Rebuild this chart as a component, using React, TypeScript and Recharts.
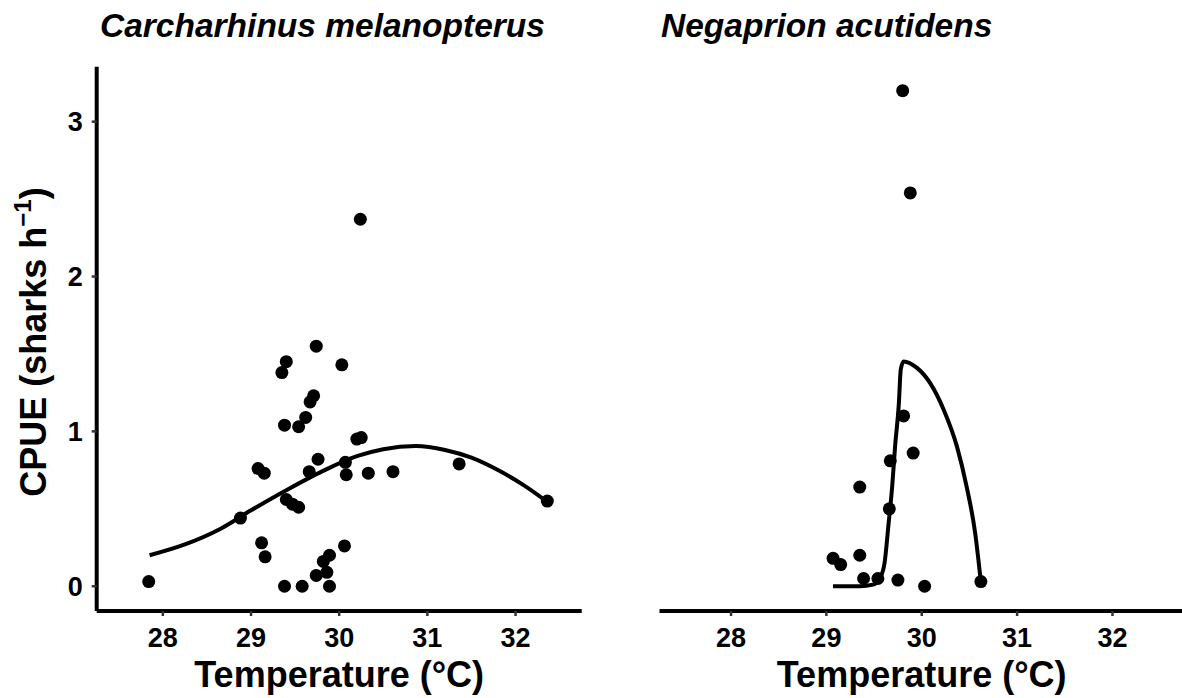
import React from "react";
import { ComposedChart, Scatter, Line, XAxis, YAxis } from "recharts";

// C. melanopterus observations (temperature °C, CPUE sharks/h)
const melTemp = [
  27.84, 28.88, 29.08, 29.15, 29.12, 29.16, 29.35, 29.4, 29.38, 29.4, 29.47, 29.54,
  29.38, 29.58, 29.54, 29.62, 29.67, 29.71, 29.74, 29.66, 29.76, 29.74, 29.82, 29.89,
  29.86, 29.89, 30.03, 30.07, 30.08, 30.06, 30.2, 30.25, 30.24, 30.33, 30.61, 31.36, 32.36,
];
const melCpue = [
  0.03, 0.44, 0.76, 0.73, 0.28, 0.19, 1.38, 1.45, 1.04, 0.56, 0.53, 0.51,
  0.0, 0.0, 1.03, 1.09, 1.19, 1.23, 1.55, 0.74, 0.82, 0.07, 0.16, 0.2,
  0.09, 0.0, 1.43, 0.8, 0.72, 0.26, 0.95, 0.96, 2.37, 0.73, 0.74, 0.79, 0.55,
];

// fitted curve
const melFitTemp = [27.85, 28.25, 28.65, 29.0, 29.4, 29.8, 30.2, 30.5, 30.87, 31.2, 31.5, 31.8, 32.1, 32.36];
const melFitCpue = [0.2, 0.27, 0.37, 0.49, 0.62, 0.74, 0.84, 0.885, 0.905, 0.88, 0.83, 0.75, 0.65, 0.545];

// N. acutidens observations
const negTemp = [29.07, 29.15, 29.35, 29.35, 29.39, 29.54, 29.75, 30.03, 29.66, 29.67, 29.81, 29.91, 30.62, 29.8, 29.88];
const negCpue = [0.18, 0.14, 0.2, 0.64, 0.05, 0.05, 0.04, 0.0, 0.5, 0.81, 1.1, 0.86, 0.03, 3.2, 2.54];

const negFitTemp = [
  29.07, 29.35, 29.49, 29.56, 29.61, 29.65, 29.69, 29.72, 29.76, 29.78, 29.81,
  29.95, 30.09, 30.23, 30.37, 30.47, 30.56, 30.62,
];
const negFitCpue = [
  0.0, 0.0, 0.01, 0.05, 0.15, 0.39, 0.645, 0.9, 1.18, 1.4, 1.452,
  1.41, 1.31, 1.14, 0.9, 0.645, 0.344, 0.026,
];

const xTicks = [28, 29, 30, 31, 32];
const yTicks = [0, 1, 2, 3];
const xDomain = [27.25, 32.75];
const yDomain = [-0.16, 3.355];

const FONT = '"Liberation Sans", Arial, Helvetica, sans-serif';

const zip = (xs: number[], ys: number[]) => xs.map((x, i) => ({ x, y: ys[i] }));

const Dot = (props: any) => <circle cx={props.cx} cy={props.cy} r={6.5} fill="#000" />;

const tickStyle = { fontSize: 27, fontWeight: 700, fill: "#000", fontFamily: FONT };

function Panel({
  points,
  fit,
  showY,
  width,
  left,
}: {
  points: { x: number; y: number }[];
  fit: { x: number; y: number }[];
  showY: boolean;
  width: number;
  left: number;
}) {
  return (
    <div style={{ position: "absolute", left, top: 0 }}>
      <ComposedChart
        width={width}
        height={698}
        margin={{ top: 66.7, right: showY ? 18.3 : 2, bottom: 57, left: showY ? 0 : 59.5 }}
      >
        <XAxis
          type="number"
          dataKey="x"
          domain={xDomain}
          ticks={xTicks}
          allowDataOverflow
          height={30}
          axisLine={{ stroke: "#000", strokeWidth: 4 }}
          tickLine={{ stroke: "#333", strokeWidth: 2.5 }}
          tickSize={5}
          tickMargin={11.5}
          tick={tickStyle}
        />
        <YAxis
          type="number"
          dataKey="y"
          domain={yDomain}
          ticks={yTicks}
          allowDataOverflow
          hide={!showY}
          width={96.7}
          axisLine={{ stroke: "#000", strokeWidth: 4 }}
          tickLine={{ stroke: "#333", strokeWidth: 2.5 }}
          tickSize={5}
          tickMargin={9}
          tick={tickStyle}
        />
        <Scatter data={points} dataKey="y" shape={Dot} isAnimationActive={false} />
        <Line
          data={fit}
          dataKey="y"
          type="monotone"
          stroke="#000"
          strokeWidth={4}
          dot={false}
          activeDot={false}
          isAnimationActive={false}
        />
      </ComposedChart>
    </div>
  );
}

export default function App() {
  return (
    <div
      style={{
        position: "fixed",
        left: 0,
        top: 0,
        width: 1182,
        height: 698,
        overflow: "hidden",
        background: "#fff",
      }}
    >
      <Panel points={zip(melTemp, melCpue)} fit={zip(melFitTemp, melFitCpue)} showY width={600} left={0} />
      <Panel points={zip(negTemp, negCpue)} fit={zip(negFitTemp, negFitCpue)} showY={false} width={586} left={600} />
      <svg
        width={1182}
        height={698}
        style={{ position: "absolute", left: 0, top: 0, pointerEvents: "none" }}
        fontFamily={FONT}
        fontWeight={700}
      >
        <text x={100} y={37} fontSize={33.5} fontStyle="italic">
          Carcharhinus melanopterus
        </text>
        <text x={661} y={37} fontSize={33.5} fontStyle="italic">
          Negaprion acutidens
        </text>
        <text x={339.2} y={686.7} fontSize={36} textAnchor="middle">
          Temperature (°C)
        </text>
        <text x={921.7} y={686.7} fontSize={36} textAnchor="middle">
          Temperature (°C)
        </text>
        <text x={46} y={342} fontSize={36} textAnchor="middle" transform="rotate(-90 46 342)">
          CPUE (sharks h
          <tspan fontSize={24} dy={-15}>
            −1
          </tspan>
          <tspan dy={15}>)</tspan>
        </text>
      </svg>
    </div>
  );
}
